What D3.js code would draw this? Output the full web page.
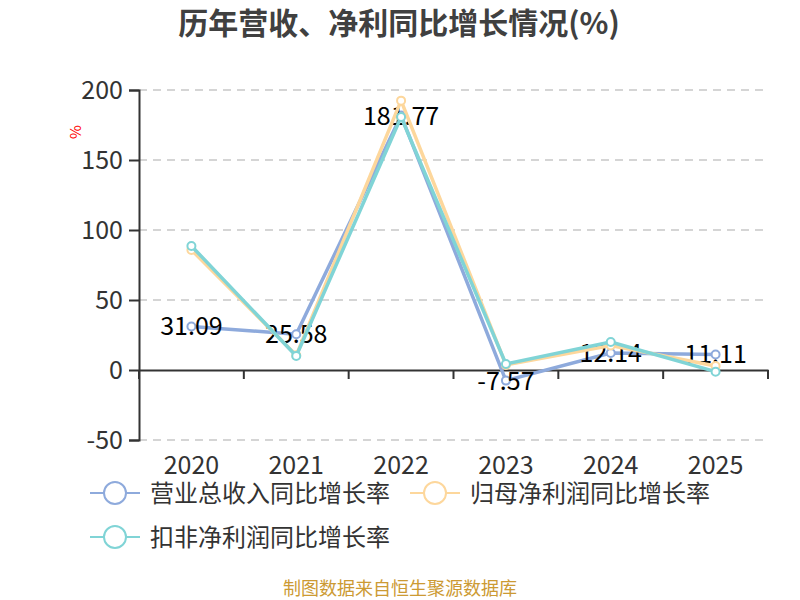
<!DOCTYPE html>
<html>
<head>
<meta charset="utf-8">
<script src="https://cdn.jsdelivr.net/npm/d3@7"></script>
<style>
  body { margin: 0; background: #fff; }
  text { font-family: "Noto Sans CJK SC", "Noto Sans", sans-serif; }
</style>
</head>
<body>
<div class="chart"></div>
<script>
// 数据
const years = ["2020", "2021", "2022", "2023", "2024", "2025"];
const revenueGrowth = [31.09, 25.58, 181.77, -7.57, 12.14, 11.11];
const netProfitGrowth = [85.8, 10.5, 192.4, 3.6, 17.5, 2.9];
const deductedProfitGrowth = [88.6, 10.0, 180.7, 4.3, 20.0, -1.2];
const yTicks = [-50, 0, 50, 100, 150, 200];
const seriesNames = ["营业总收入同比增长率", "归母净利润同比增长率", "扣非净利润同比增长率"];
const seriesColors = ["#8eaadc", "#fdd79c", "#80d4d6"];

const width = 800, height = 600;
const margin = { top: 90, right: 32, bottom: 160, left: 139 };
const innerW = width - margin.left - margin.right;
const innerH = height - margin.top - margin.bottom;

const svg = d3.select(".chart").append("svg")
    .attr("width", width)
    .attr("height", height);

// 标题
svg.append("text")
    .attr("x", 399).attr("y", 34)
    .attr("text-anchor", "middle")
    .style("font-size", "30px").style("font-weight", "bold")
    .style("fill", "#404040")
    .text("历年营收、净利同比增长情况(%)");

const g = svg.append("g").attr("transform", `translate(${margin.left},${margin.top})`);

// 比例尺
const x = d3.scaleBand().domain(years).range([0, innerW]);
const y = d3.scaleLinear().domain([-50, 200]).range([innerH, 0]);

// 网格线
g.selectAll(".grid").data(yTicks.filter(d => d !== 0)).enter()
    .append("line")
    .attr("x1", 0).attr("x2", innerW)
    .attr("y1", d => y(d)).attr("y2", d => y(d))
    .attr("stroke", "#c8c8c8").attr("stroke-width", 1.5)
    .attr("stroke-dasharray", "8,6");

// y轴
const yAxis = g.append("g").call(d3.axisLeft(y).tickValues(yTicks)
    .tickFormat(d => String(d)).tickSize(10).tickPadding(6));
yAxis.select(".domain").attr("stroke", "#333").attr("stroke-width", 2);
yAxis.selectAll(".tick line").attr("stroke", "#333").attr("stroke-width", 2);
yAxis.selectAll("text").style("font-size", "25px").style("fill", "#333")
    .style("font-family", "'Noto Sans CJK SC', sans-serif");

// x轴 (零线)
const xAxis = g.append("g").attr("transform", `translate(0,${y(0)})`)
    .call(d3.axisBottom(x).tickSize(0).tickFormat(""));
xAxis.select(".domain").attr("stroke", "#333").attr("stroke-width", 2);
const bounds = years.map(d => x(d)).concat([innerW]);
g.selectAll(".xtick").data(bounds).enter().append("line")
    .attr("x1", d => d).attr("x2", d => d)
    .attr("y1", y(0)).attr("y2", y(0) + 9)
    .attr("stroke", "#333").attr("stroke-width", 2);

// x轴标签
g.selectAll(".xlabel").data(years).enter().append("text")
    .attr("x", d => x(d) + x.bandwidth() / 2)
    .attr("y", innerH + 34)
    .attr("text-anchor", "middle")
    .style("font-size", "25px").style("fill", "#333")
    .text(d => d);

// 单位
svg.append("text")
    .attr("transform", "translate(81,132) rotate(-90)")
    .attr("text-anchor", "middle")
    .style("font-size", "15px").style("fill", "red")
    .text("%");

// 折线
const allSeries = [revenueGrowth, netProfitGrowth, deductedProfitGrowth];
const line = d3.line()
    .x((d, i) => x(years[i]) + x.bandwidth() / 2)
    .y(d => y(d));

allSeries.forEach((vals, si) => {
    g.append("path").datum(vals)
        .attr("d", line)
        .attr("fill", "none")
        .attr("stroke", seriesColors[si])
        .attr("stroke-width", 3.5)
        .attr("stroke-linejoin", "round");
    g.selectAll(".pt" + si).data(vals).enter().append("circle")
        .attr("cx", (d, i) => x(years[i]) + x.bandwidth() / 2)
        .attr("cy", d => y(d))
        .attr("r", 4)
        .attr("fill", "#fff")
        .attr("stroke", seriesColors[si])
        .attr("stroke-width", 2);
    if (si === 0) {
        g.selectAll(".lbl").data(vals).enter().append("text")
            .attr("x", (d, i) => x(years[i]) + x.bandwidth() / 2)
            .attr("y", d => y(d))
            .attr("dy", "0.36em")
            .attr("text-anchor", "middle")
            .style("font-size", "25px").style("fill", "#000")
            .text(d => d.toFixed(2));
    }
});

// 图例
const legendPos = [[90, 493], [410, 493], [90, 537]];
seriesNames.forEach((name, i) => {
    const lg = svg.append("g").attr("transform", `translate(${legendPos[i][0]},${legendPos[i][1]})`);
    lg.append("line").attr("x1", 0).attr("x2", 50)
        .attr("stroke", seriesColors[i]).attr("stroke-width", 2);
    lg.append("circle").attr("cx", 25).attr("r", 11)
        .attr("fill", "#fff").attr("stroke", seriesColors[i]).attr("stroke-width", 2);
    lg.append("text").attr("x", 60).attr("dy", "0.36em")
        .style("font-size", "24px").style("fill", "#333")
        .text(name);
});

// 来源
svg.append("text")
    .attr("x", 400).attr("y", 595)
    .attr("text-anchor", "middle")
    .style("font-size", "18px").style("fill", "#cc9a33")
    .text("制图数据来自恒生聚源数据库");
</script>
</body>
</html>
